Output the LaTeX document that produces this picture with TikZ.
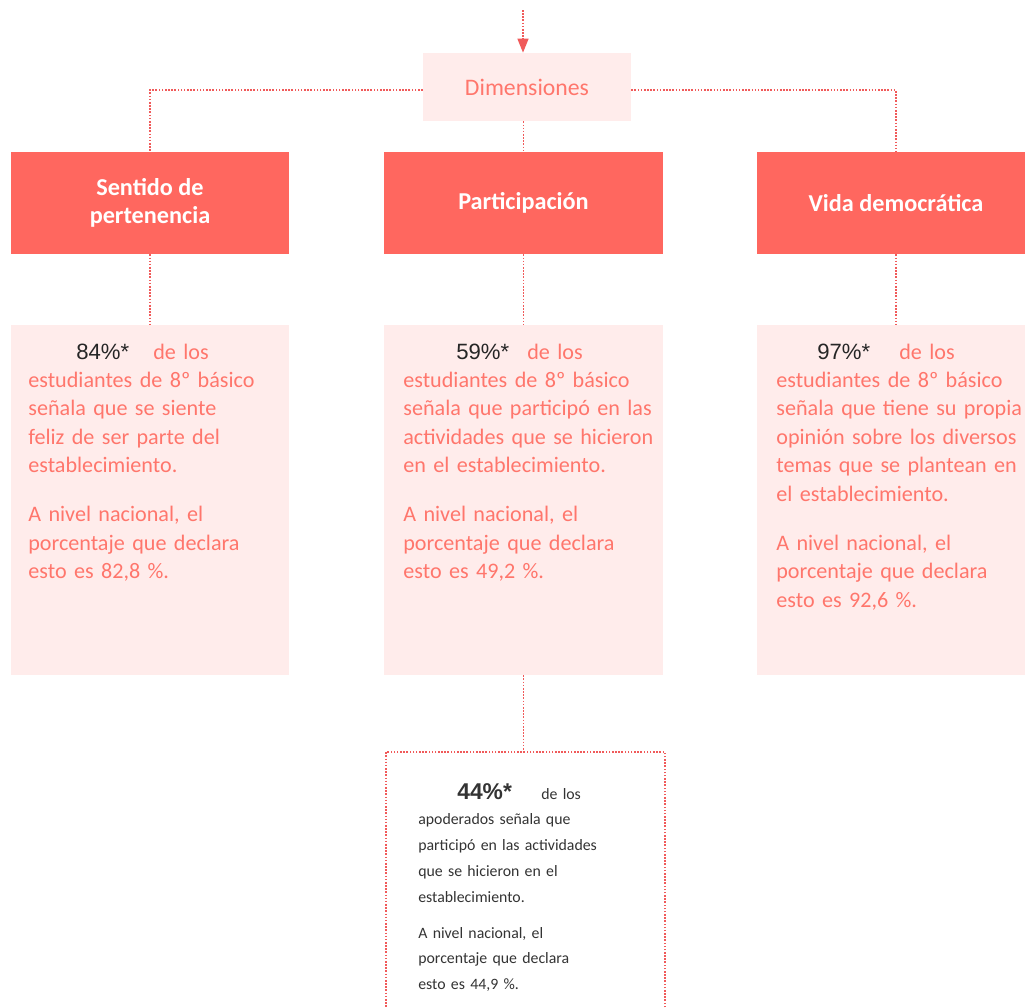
\documentclass[tikz,border=0pt]{standalone}
\usepackage{fontspec}
\setmainfont{Carlito}
\newfontfamily\numfont{Liberation Sans}
\usetikzlibrary{arrows.meta,positioning}
\definecolor{hdrred}{RGB}{255,103,95}
\definecolor{palepink}{RGB}{255,236,235}
\definecolor{salmon}{RGB}{255,118,108}
\definecolor{dotred}{RGB}{240,90,90}

\begin{document}
\begin{tikzpicture}[x=0.02cm,y=-0.02cm,
  hdr/.style={fill=hdrred,minimum width=5.58cm,minimum height=2.04cm,align=center,text=white,font=\fontsize{13.8}{15.6}\selectfont\bfseries},
  pale/.style={fill=palepink,minimum width=5.58cm,minimum height=7cm},
  info/.style={anchor=base west,inner sep=0pt,text width=5.3cm,align=left,text=salmon,font=\fontsize{12.6}{16.2}\selectfont},
  lnk/.style={draw=dotred,line width=.8pt,dash pattern=on .9pt off .9pt}]
\useasboundingbox (0,0) rectangle (1025,1008);
\clip (0,0) rectangle (1025,1008);
% top level
\coordinate (top) at (523,10);
\node[fill=palepink,minimum width=4.16cm,minimum height=1.36cm,text=salmon,font=\fontsize{13.5}{16}\selectfont] (dim) at (527,87) {Dimensiones};
% dimension headers
\node[hdr] (sent) at (150,203) {Sentido de\\pertenencia};
\node[hdr] (part) at (523.5,203) {Participación};
\node[hdr] (vida) at (896,203) {Vida democrática};
% result boxes
\node[pale] (sentbox) at (150,500) {};
\node[pale] (partbox) at (523.5,500) {};
\node[pale] (vidabox) at (896,500) {};
\node[draw=dotred,line width=.8pt,dash pattern=on .9pt off .9pt,minimum width=5.58cm,minimum height=5.6cm] (apod) at (525.5,892) {};
\node[info] (senttxt) at (28,359) {\makebox[2.5cm][l]{\hspace{0.96cm}{\numfont\color{black!85}84\%*}}de los\\
  estudiantes de 8º básico\\señala que se siente\\feliz de ser parte del\\establecimiento.\\[11.6pt]
  A nivel nacional, el\\porcentaje que declara\\esto es 82,8 \%.};
\node[info] (parttxt) at (403,359) {\makebox[2.48cm][l]{\hspace{1.06cm}{\numfont\color{black!85}59\%*}}de los\\
  estudiantes de 8º básico\\señala que participó en las\\actividades que se hicieron\\en el establecimiento.\\[11.6pt]
  A nivel nacional, el\\porcentaje que declara\\esto es 49,2 \%.};
\node[info] (vidatxt) at (776,359) {\makebox[2.46cm][l]{\hspace{0.82cm}{\numfont\color{black!85}97\%*}}de los\\
  estudiantes de 8º básico\\señala que tiene su propia\\opinión sobre los diversos\\temas que se plantean en\\el establecimiento.\\[11.6pt]
  A nivel nacional, el\\porcentaje que declara\\esto es 92,6 \%.};
\node[info,text=black!80,font=\fontsize{9}{14.7}\selectfont] (apodtxt) at (418,799) {\makebox[2.46cm][l]{\hspace{0.78cm}{\numfont\bfseries\fontsize{13}{14.7}\selectfont 44\%*}}de los\\
  apoderados señala que\\participó en las actividades\\que se hicieron en el\\establecimiento.\\[5.7pt]
  A nivel nacional, el\\porcentaje que declara\\esto es 44,9 \%.};
% connectors
\draw[lnk,-{Triangle[length=0.28cm,width=0.22cm]}] (top) -- (top |- dim.north);
\draw[lnk] ([yshift=-0.06cm]dim.west) -| (sent.north);
\draw[lnk] ([yshift=-0.06cm]dim.east) -| (vida.north);
\draw[lnk] (dim.south -| part.north) -- (part.north);
\draw[lnk] (sent.south) -- (sentbox.north);
\draw[lnk] (part.south) -- (partbox.north);
\draw[lnk] (vida.south) -- (vidabox.north);
\draw[lnk] (partbox.south) -- (apod.north -| partbox.south);
\end{tikzpicture}
\end{document}
